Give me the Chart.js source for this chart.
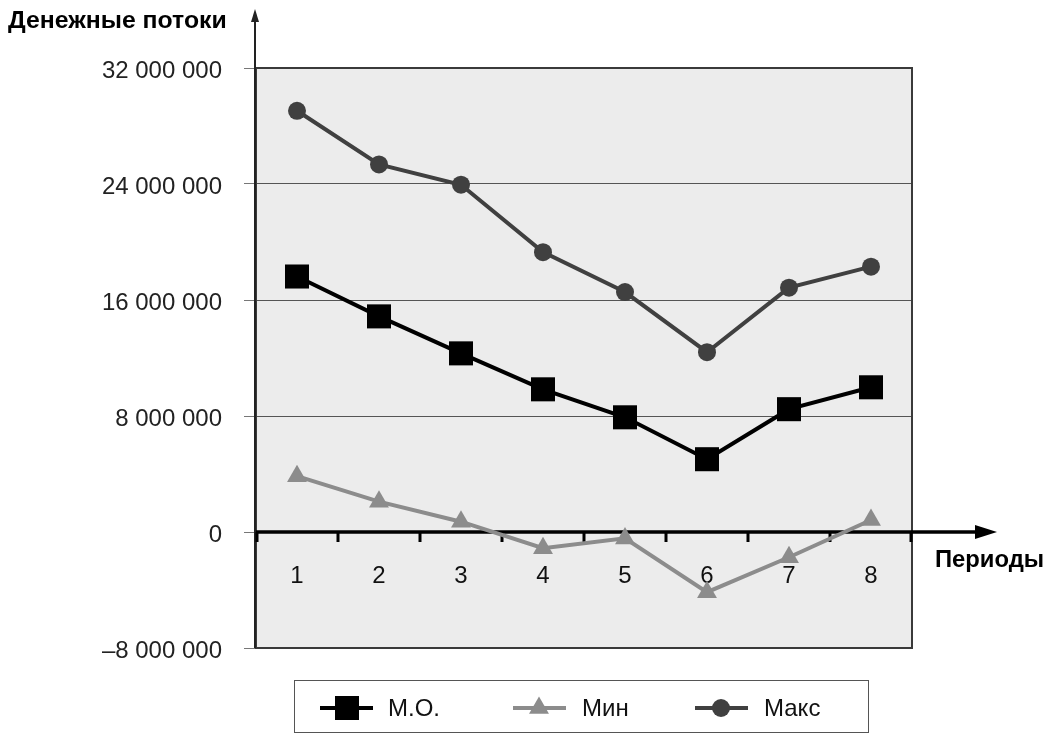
<!DOCTYPE html>
<html>
<head>
<meta charset="utf-8">
<script src="https://cdn.jsdelivr.net/npm/chart.js@4/dist/chart.umd.min.js"></script>
<style>
  html, body { margin: 0; padding: 0; background: #ffffff; }
  canvas { display: block; }
</style>
</head>
<body>
<canvas id="c" width="1050" height="735"></canvas>
<script>
// ---- Data ----
const periods = ['1', '2', '3', '4', '5', '6', '7', '8'];
const moValues  = [17620000, 14870000, 12320000, 9840000, 7910000, 5020000, 8470000, 9980000];
const minValues = [3850000, 2090000, 710000, -1120000, -440000, -4150000, -1740000, 830000];
const maxValues = [29050000, 25350000, 23950000, 19300000, 16550000, 12400000, 16850000, 18300000];
const yTickValues = [-8000000, 0, 8000000, 16000000, 24000000, 32000000];
const yAxisTitle = 'Денежные потоки';
const xAxisTitle = 'Периоды';
const seriesNames = ['М.О.', 'Мин', 'Макс'];

const FONT = "'Liberation Sans', Arial, Helvetica, sans-serif";

function fmt(v) {
  const neg = v < 0;
  const s = Math.abs(v).toString().replace(/\B(?=(\d{3})+(?!\d))/g, ' ');
  return (neg ? '\u2013' : '') + s;
}

function arrowHead(ctx, x, y, dir, len, half) {
  ctx.beginPath();
  if (dir === 'up') {
    ctx.moveTo(x, y); ctx.lineTo(x - half, y + len); ctx.lineTo(x + half, y + len);
  } else {
    ctx.moveTo(x, y); ctx.lineTo(x - len, y - half); ctx.lineTo(x - len, y + half);
  }
  ctx.closePath();
  ctx.fill();
}

const decor = {
  id: 'decor',
  beforeDraw(chart) {
    const { ctx, chartArea: a } = chart;
    ctx.save();
    ctx.fillStyle = '#ececec';
    ctx.fillRect(a.left, a.top, a.right - a.left, a.bottom - a.top);
    ctx.restore();
  },
  beforeDatasetsDraw(chart) {
    const { ctx, chartArea: a, scales } = chart;
    const xs = scales.x, ys = scales.y;
    ctx.save();
    // plot border
    ctx.strokeStyle = '#3a3a3a';
    ctx.lineWidth = 2;
    ctx.strokeRect(a.left, a.top, a.right - a.left, a.bottom - a.top);
    // y axis with arrow
    ctx.strokeStyle = '#222';
    ctx.lineWidth = 2;
    ctx.beginPath();
    ctx.moveTo(a.left - 1, a.bottom);
    ctx.lineTo(a.left - 1, 18);
    ctx.stroke();
    ctx.fillStyle = '#222';
    arrowHead(ctx, a.left - 1, 9, 'up', 13, 4);
    // zero line with arrow
    const y0 = ys.getPixelForValue(0);
    ctx.strokeStyle = '#000';
    ctx.lineWidth = 3.5;
    ctx.beginPath();
    ctx.moveTo(a.left, y0);
    ctx.lineTo(980, y0);
    ctx.stroke();
    ctx.fillStyle = '#000';
    arrowHead(ctx, 997, y0, 'right', 22, 7);
    // category boundary ticks on zero line
    ctx.lineWidth = 3;
    const n = periods.length;
    for (let i = 0; i <= n; i++) {
      let px;
      if (i === 0) px = a.left + 1;
      else if (i === n) px = a.right - 1;
      else px = (xs.getPixelForValue(i - 1) + xs.getPixelForValue(i)) / 2;
      ctx.beginPath();
      ctx.moveTo(px, y0);
      ctx.lineTo(px, y0 + 10);
      ctx.stroke();
    }
    // x labels
    ctx.fillStyle = '#111';
    ctx.font = '24px ' + FONT;
    ctx.textAlign = 'center';
    ctx.textBaseline = 'alphabetic';
    periods.forEach((p, i) => {
      ctx.fillText(p, xs.getPixelForValue(i), 583);
    });
    ctx.restore();
  },
  afterDraw(chart) {
    const { ctx } = chart;
    ctx.save();
    // axis titles
    ctx.fillStyle = '#000';
    ctx.textAlign = 'left';
    ctx.textBaseline = 'alphabetic';
    ctx.font = 'bold 24.8px ' + FONT;
    ctx.fillText(yAxisTitle, 8, 28);
    ctx.font = 'bold 23.8px ' + FONT;
    ctx.fillText(xAxisTitle, 935, 567);
    // legend
    ctx.strokeStyle = '#555';
    ctx.lineWidth = 1;
    ctx.strokeRect(294.5, 680.5, 574, 52);
    const items = [
      { ds: 0, lx: 320, mx: 347, tx: 388 },
      { ds: 1, lx: 513, mx: 539, tx: 582 },
      { ds: 2, lx: 695, mx: 721, tx: 764 }
    ];
    const ly = 708;
    items.forEach(it => {
      const d = chart.data.datasets[it.ds];
      ctx.strokeStyle = d.borderColor;
      ctx.lineWidth = d.borderWidth;
      ctx.beginPath();
      ctx.moveTo(it.lx, ly);
      ctx.lineTo(it.lx + 53, ly);
      ctx.stroke();
      ctx.fillStyle = d.pointBackgroundColor;
      Chart.helpers.drawPoint(ctx, {
        pointStyle: d.pointStyle, radius: d.pointRadius, rotation: 0, borderWidth: 0
      }, it.mx, ly);
      ctx.fillStyle = '#111';
      ctx.font = '24px ' + FONT;
      ctx.textBaseline = 'middle';
      ctx.fillText(seriesNames[it.ds], it.tx, ly + 1);
    });
    ctx.restore();
  }
};

new Chart(document.getElementById('c'), {
  type: 'line',
  data: {
    labels: periods,
    datasets: [
      {
        label: seriesNames[0], data: moValues,
        borderColor: '#000', backgroundColor: '#000', pointBackgroundColor: '#000',
        borderWidth: 4, pointStyle: 'rect', pointRadius: 17, pointBorderWidth: 0, tension: 0
      },
      {
        label: seriesNames[1], data: minValues,
        borderColor: '#8c8c8c', backgroundColor: '#8c8c8c', pointBackgroundColor: '#8c8c8c',
        borderWidth: 4, pointStyle: 'triangle', pointRadius: 11.5, pointBorderWidth: 0, tension: 0
      },
      {
        label: seriesNames[2], data: maxValues,
        borderColor: '#404040', backgroundColor: '#404040', pointBackgroundColor: '#404040',
        borderWidth: 4, pointStyle: 'circle', pointRadius: 9, pointBorderWidth: 0, tension: 0
      }
    ]
  },
  options: {
    responsive: false,
    animation: false,
    layout: { padding: { left: 0, top: 68, right: 138, bottom: 87 } },
    plugins: { legend: { display: false }, tooltip: { enabled: false } },
    scales: {
      x: { type: 'category', offset: true, display: false },
      y: {
        type: 'linear',
        min: -8000000, max: 32000000,
        afterFit(scale) { scale.width = 256; },
        afterBuildTicks(scale) { scale.ticks = yTickValues.map(v => ({ value: v })); },
        border: { display: false },
        grid: {
          drawOnChartArea: true,
          lineWidth: 1,
          tickLength: 12,
          color(ctx) {
            const v = ctx.tick ? ctx.tick.value : null;
            if (v === 8000000 || v === 16000000 || v === 24000000) return '#555';
            return 'rgba(0,0,0,0)';
          },
          tickColor: '#777'
        },
        ticks: {
          padding: 22,
          labelOffset: 3,
          color: '#222',
          font: { family: FONT, size: 24 },
          callback: v => fmt(v)
        }
      }
    }
  },
  plugins: [decor]
});
</script>
</body>
</html>
